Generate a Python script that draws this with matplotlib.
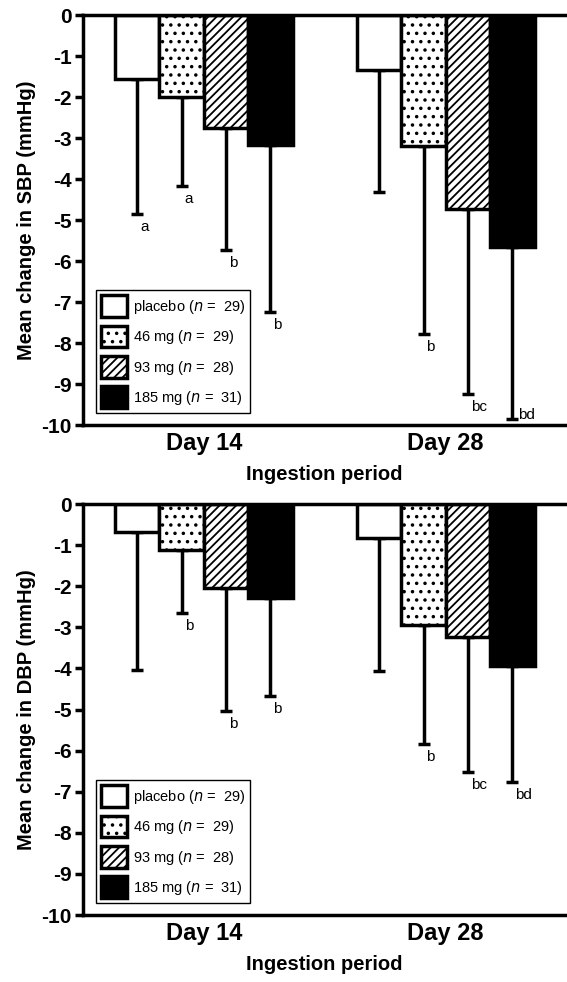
import numpy as np
import matplotlib
matplotlib.use('Agg')
import matplotlib.pyplot as plt
from matplotlib.patches import Patch

plt.rcParams['font.family'] = ['Liberation Sans', 'DejaVu Sans']
plt.rcParams['hatch.linewidth'] = 1.3

# data
periods = ['Day 14', 'Day 28']
groups = ['placebo', '46 mg', '93 mg', '185 mg']
group_n = [29, 29, 28, 31]

sbp_mean = {'placebo': [-1.55, -1.35], '46 mg': [-2.00, -3.19],
            '93 mg': [-2.75, -4.73], '185 mg': [-3.17, -5.67]}
sbp_sd = {'placebo': [3.30, 2.97], '46 mg': [2.18, 4.59],
          '93 mg': [2.97, 4.52], '185 mg': [4.07, 4.18]}
sbp_letters = {'placebo': ['a', ''], '46 mg': ['a', 'b'],
               '93 mg': ['b', 'bc'], '185 mg': ['b', 'bd']}

dbp_mean = {'placebo': [-0.68, -0.83], '46 mg': [-1.12, -2.95],
            '93 mg': [-2.04, -3.24], '185 mg': [-2.29, -3.93]}
dbp_sd = {'placebo': [3.36, 3.23], '46 mg': [1.53, 2.89],
          '93 mg': [2.99, 3.28], '185 mg': [2.37, 2.83]}
dbp_letters = {'placebo': ['', ''], '46 mg': ['b', 'b'],
               '93 mg': ['b', 'bc'], '185 mg': ['b', 'bd']}

# styling
faces = {'placebo': 'white', '46 mg': 'white', '93 mg': 'white', '185 mg': 'black'}
hatches = {'placebo': None, '46 mg': '..', '93 mg': '////', '185 mg': None}
group_x = np.array([2.72, 8.17])
offsets = [-1.5, -0.5, 0.5, 1.5]
lw = 2.5


def letter_offset(lab, panel):
    if panel == 'sbp' and lab == 'bd':
        return (6, 4), 'center'
    return (3, -6), 'top'


def draw_panel(ax, means, sds, letters, ylabel, panel):
    for i, g in enumerate(groups):
        x = group_x + offsets[i]
        m = np.array(means[g])
        s = np.array(sds[g])
        ax.bar(x, m, width=1.0, color=faces[g], edgecolor='black',
               linewidth=lw, hatch=hatches[g], zorder=2)
        ax.errorbar(x, m, yerr=[s, np.zeros_like(s)], fmt='none',
                    ecolor='black', elinewidth=lw, capsize=4.5,
                    capthick=lw, zorder=1)
        for xi, lo, lab in zip(x, m - s, letters[g]):
            if lab:
                off, va = letter_offset(lab, panel)
                ax.annotate(lab, (xi, lo), xytext=off, textcoords='offset pixels',
                            ha='left', va=va, fontsize=11)

    ax.set_xlim(0, 10.88)
    ax.set_ylim(-10, 0)
    ax.set_yticks(np.arange(-10, 1, 1))
    ax.set_yticklabels([str(v) for v in range(-10, 1)], fontweight='bold', fontsize=15)
    ax.set_xticks(group_x)
    ax.set_xticklabels(periods, fontweight='bold', fontsize=17)
    ax.tick_params(axis='x', length=0, pad=5)
    ax.tick_params(axis='y', length=6, width=lw, pad=2)
    for side in ['left', 'top', 'bottom']:
        ax.spines[side].set_linewidth(lw)
    ax.spines['right'].set_visible(False)
    ax.set_ylabel(ylabel, fontweight='bold', fontsize=14.5, labelpad=4)
    ax.set_xlabel('Ingestion period', fontweight='bold', fontsize=14.5, labelpad=7)

    handles = [Patch(facecolor=faces[g], edgecolor='black', linewidth=lw,
                     hatch=hatches[g]) for g in groups]
    labels = [g + ' ($n$ =  %d)' % n for g, n in zip(groups, group_n)]
    leg = ax.legend(handles, labels, loc='lower left', bbox_to_anchor=(0.027, 0.029),
                    borderaxespad=0, fontsize=10.5, handlelength=1.75, handleheight=1.9,
                    handletextpad=0.4, labelspacing=0.6, borderpad=0.35,
                    fancybox=False, edgecolor='black', framealpha=1)
    leg.get_frame().set_linewidth(1.0)


fig = plt.figure(figsize=(5.67, 9.82), dpi=100)
ax1 = fig.add_axes([0.1464, 0.5672, 0.8519, 0.4175])
ax2 = fig.add_axes([0.1464, 0.0682, 0.8519, 0.4185])

draw_panel(ax1, sbp_mean, sbp_sd, sbp_letters, 'Mean change in SBP (mmHg)', 'sbp')
draw_panel(ax2, dbp_mean, dbp_sd, dbp_letters, 'Mean change in DBP (mmHg)', 'dbp')

fig.savefig('out.png', dpi=100)
